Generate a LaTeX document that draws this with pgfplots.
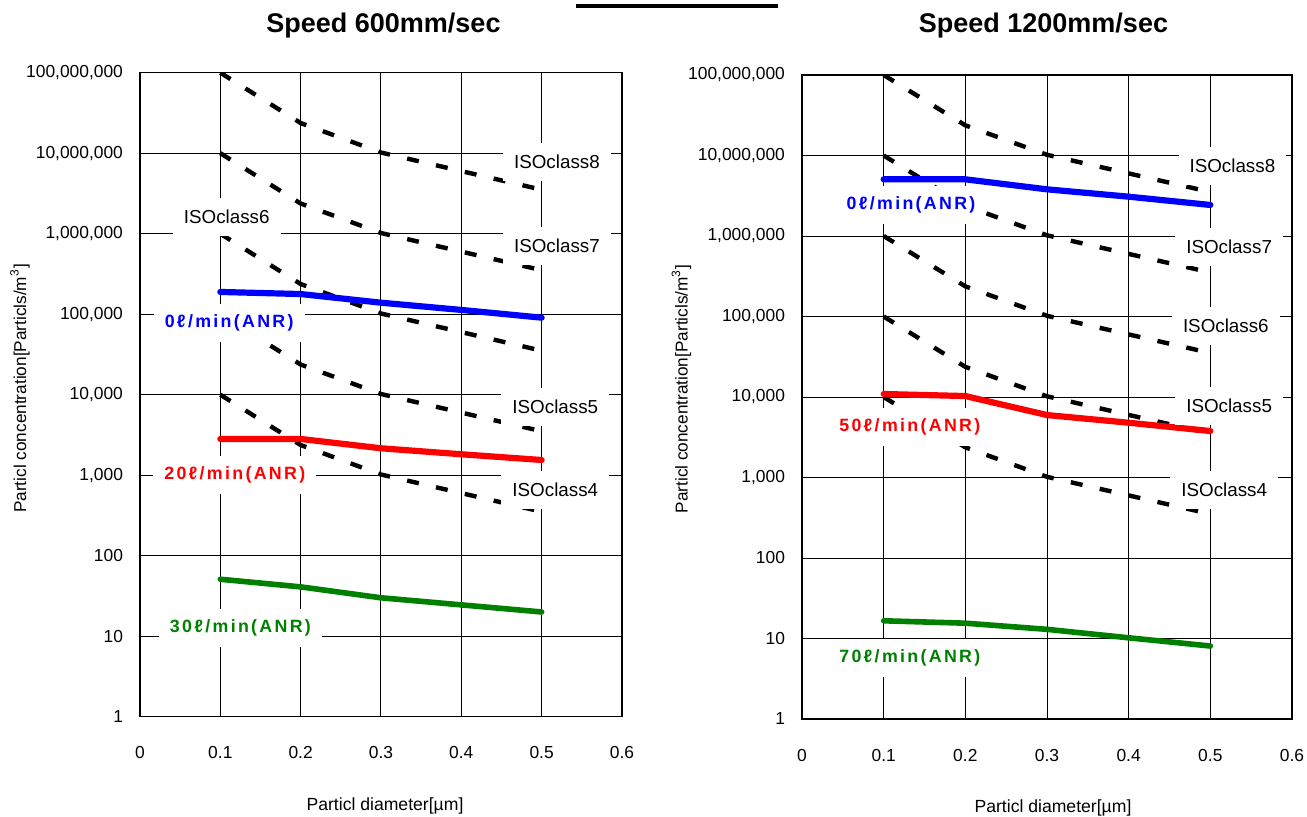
\documentclass[border=0pt]{standalone}
\usepackage{pgfplots}
\pgfplotsset{compat=1.18}
\usepackage{fontspec}
\setmainfont{Liberation Sans}
\newfontfamily\spaced[LetterSpace=13]{Liberation Sans}

\definecolor{anrblue}{RGB}{0,0,255}
\definecolor{anrred}{RGB}{255,0,0}
\definecolor{anrgreen}{RGB}{0,128,0}

\pgfplotsset{
  panel/.style={
    scale only axis, anchor=south west, height=322pt,
    xmin=0, xmax=0.6, ymin=1, ymax=1e8,
    xtick={0,0.1,0.2,0.3,0.4,0.5,0.6},
    xticklabels={0,0.1,0.2,0.3,0.4,0.5,0.6},
    ytick={1,10,100,1000,10000,100000,1000000,10000000,100000000},
    yticklabels={1,10,100,{1,000},{10,000},{100,000},{1,000,000},{10,000,000},{100,000,000}},
    yminorticks=false,
    grid=major, major grid style={black, line width=0.5pt},
    major tick length=0pt,
    axis line style={black, line width=0.6pt},
    tick label style={font=\fontsize{8.7}{10}\selectfont},
    xticklabel style={yshift=-11.5pt},
    yticklabel style={xshift=-5pt},
  },
  iso/.style={black, line width=2.2pt, dash pattern=on 6pt off 8.8pt, forget plot},
  flow/.style={line width=3.1pt, line cap=round, line join=round},
}
\tikzset{
  isolbl/.style={fill=white, inner xsep=5.5pt, inner ysep=6pt, font=\fontsize{9.4}{11}\selectfont},
  flowlbl/.style={fill=white, inner xsep=5.5pt, inner ysep=5.5pt, font=\spaced\bfseries\fontsize{8.9}{10}\selectfont},
}

% ISO 14644-1 class limits, same in both panels
\newcommand\isolines{%
  \addplot[iso] coordinates {(0.1,1e8) (0.2,2.37e7) (0.3,1.02e7) (0.5,3.52e6)};
  \addplot[iso] coordinates {(0.1,1e7) (0.2,2.37e6) (0.3,1.02e6) (0.5,3.52e5)};
  \addplot[iso] coordinates {(0.1,1e6) (0.2,2.37e5) (0.3,1.02e5) (0.5,3.52e4)};
  \addplot[iso] coordinates {(0.1,1e5) (0.2,2.37e4) (0.3,1.02e4) (0.5,3.52e3)};
  \addplot[iso] coordinates {(0.1,1e4) (0.2,2.37e3) (0.3,1.02e3) (0.5,352)};
}

\begin{document}
\begin{tikzpicture}
\useasboundingbox (0,0) rectangle (653.5pt,408pt);

% left panel: 600 mm/sec
\begin{semilogyaxis}[panel, at={(70pt,49.65pt)}, width=241pt]
\isolines
\addplot[flow, anrblue] coordinates {(0.1,189000) (0.2,178000) (0.3,139000) (0.4,113000) (0.5,90600)};
\addplot[flow, anrred] coordinates {(0.1,2820) (0.2,2820) (0.3,2160) (0.4,1820) (0.5,1545)};
\addplot[flow, anrgreen, line width=2.8pt] coordinates {(0.1,51) (0.2,41) (0.3,30) (0.4,24.5) (0.5,20)};
\node[isolbl] at (axis cs:0.519,7.78e6) {ISOclass8};
\node[isolbl] at (axis cs:0.519,7.03e5) {ISOclass7};
\node[isolbl] at (axis cs:0.108,1.61e6) {ISOclass6};
\node[isolbl] at (axis cs:0.517,7030) {ISOclass5};
\node[isolbl] at (axis cs:0.517,655) {ISOclass4};
\node[flowlbl, text=anrblue] at (axis cs:0.111,77800) {0ℓ/min(ANR)};
\node[flowlbl, text=anrred] at (axis cs:0.118,1005) {20ℓ/min(ANR)};
\node[flowlbl, text=anrgreen] at (axis cs:0.125,12.6) {30ℓ/min(ANR)};
\end{semilogyaxis}

% right panel: 1200 mm/sec
\begin{semilogyaxis}[panel, at={(401pt,48.5pt)}, width=245pt]
\isolines
\addplot[flow, anrblue] coordinates {(0.1,5.06e6) (0.2,5.06e6) (0.3,3.8e6) (0.4,3.08e6) (0.5,2.43e6)};
\addplot[flow, anrred] coordinates {(0.1,10900) (0.2,10280) (0.3,5970) (0.4,4790) (0.5,3780)};
\addplot[flow, anrgreen, line width=2.8pt] coordinates {(0.1,16.6) (0.2,15.5) (0.3,13) (0.4,10.2) (0.5,8.07)};
\node[isolbl] at (axis cs:0.527,7.41e6) {ISOclass8};
\node[isolbl] at (axis cs:0.523,7.3e5) {ISOclass7};
\node[isolbl] at (axis cs:0.519,76200) {ISOclass6};
\node[isolbl] at (axis cs:0.523,7730) {ISOclass5};
\node[isolbl] at (axis cs:0.517,700) {ISOclass4};
\node[flowlbl, text=anrblue] at (axis cs:0.1335,2.43e6) {0ℓ/min(ANR)};
\node[flowlbl, text=anrred] at (axis cs:0.132,4240) {50ℓ/min(ANR)};
\node[flowlbl, text=anrgreen] at (axis cs:0.132,5.7) {70ℓ/min(ANR)};
\end{semilogyaxis}

% titles and axis labels
\node[anchor=base, font=\bfseries\fontsize{13.5}{16}\selectfont] at (191.75pt,391.5pt) {Speed 600mm/sec};
\node[anchor=base, font=\bfseries\fontsize{13.5}{16}\selectfont] at (521.75pt,391.5pt) {Speed 1200mm/sec};
\draw[line width=2pt] (288pt,405pt) -- (389pt,405pt);
\node[anchor=base, font=\fontsize{8.8}{10}\selectfont] at (192.5pt,3pt) {Particl diameter[µm]};
\node[anchor=base, font=\fontsize{8.8}{10}\selectfont] at (526.5pt,2pt) {Particl diameter[µm]};
\node[rotate=90, font=\fontsize{8.6}{10}\selectfont] at (10pt,213.75pt) {Particl concentration[Particls/m\textsuperscript{3}]};
\node[rotate=90, font=\fontsize{8.6}{10}\selectfont] at (340.75pt,213.5pt) {Particl concentration[Particls/m\textsuperscript{3}]};
\end{tikzpicture}
\end{document}
